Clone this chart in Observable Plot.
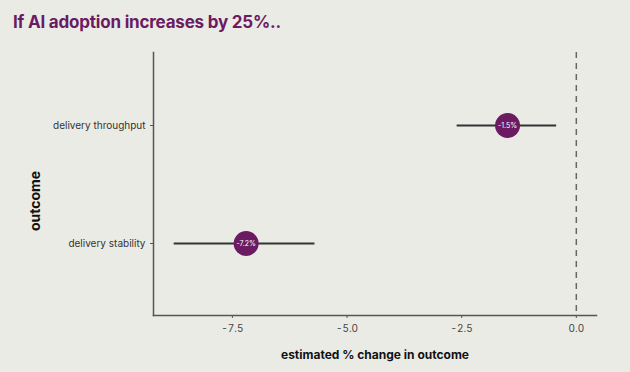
<!DOCTYPE html>
<html><head><meta charset="utf-8">
<script src="https://cdn.jsdelivr.net/npm/d3@7"></script>
<script src="https://cdn.jsdelivr.net/npm/@observablehq/plot@0.6"></script>
<style>
html,body{margin:0;padding:0;background:#ebebe6;}
#title{height:40px;box-sizing:border-box;padding:12px 0 0 13px;font:700 17px Inter,"Open Sans",sans-serif;color:#6a1b62;letter-spacing:-0.2px;}
</style></head><body>
<div id="title">If AI adoption increases by 25%..</div>
<div id="chart"></div>
<script>
const outcomes = ["delivery throughput", "delivery stability"];
const estimates = [-1.5, -7.2];
const lower = [-2.61, -8.78];
const upper = [-0.44, -5.71];
const pointLabels = ["-1.5%", "-7.2%"];
const xTicks = [-7.5, -5.0, -2.5, 0.0];

const data = outcomes.map((o, i) => ({outcome: o, est: estimates[i], lo: lower[i], hi: upper[i], label: pointLabels[i]}));
const xDomain = [-9.22, 0.44];

const chart = Plot.plot({
  width: 630, height: 332,
  marginTop: 12, marginBottom: 57, marginLeft: 153, marginRight: 34,
  style: {background: "#ebebe6", fontFamily: "Inter, 'Open Sans', sans-serif", color: "#444"},
  x: {domain: xDomain, ticks: xTicks, label: null},
  y: {domain: outcomes, padding: 0.61, label: null},
  marks: [
    Plot.ruleX([0], {stroke: "#666", strokeWidth: 1.5, strokeDasharray: "6,5"}),
    Plot.frame({anchor: "left", stroke: "#555", strokeWidth: 1.5}),
    Plot.frame({anchor: "bottom", stroke: "#555", strokeWidth: 1.5}),
    Plot.axisX({ticks: xTicks, tickFormat: d => d3.format(".1f")(d).replace("−","-"), tickSize: 3, tickPadding: 6, fontSize: 10, stroke: "#555", fill: "#444", label: null}),
    Plot.axisY({tickSize: 3, tickPadding: 5, fontSize: 10, stroke: "#555", fill: "#333", label: null}),
    Plot.link(data, {x1: "lo", x2: "hi", y1: "outcome", y2: "outcome", stroke: "#333", strokeWidth: 2}),
    Plot.dot(data, {x: "est", y: "outcome", r: 12.5, fill: "#6a1b62"}),
    Plot.text(data, {x: "est", y: "outcome", text: "label", fill: "white", fontSize: 7}),
    Plot.text(["outcome"], {frameAnchor: "left", dx: -118, dy: 17, rotate: -90, textAnchor: "middle", text: d => d, fontSize: 14, fontWeight: 700, fill: "#111"}),
    Plot.text(["estimated % change in outcome"], {frameAnchor: "bottom", dy: 43, text: d => d, fontSize: 12, fontWeight: 700, fill: "#111"})
  ]
});
document.getElementById("chart").appendChild(chart);
</script></body></html>
